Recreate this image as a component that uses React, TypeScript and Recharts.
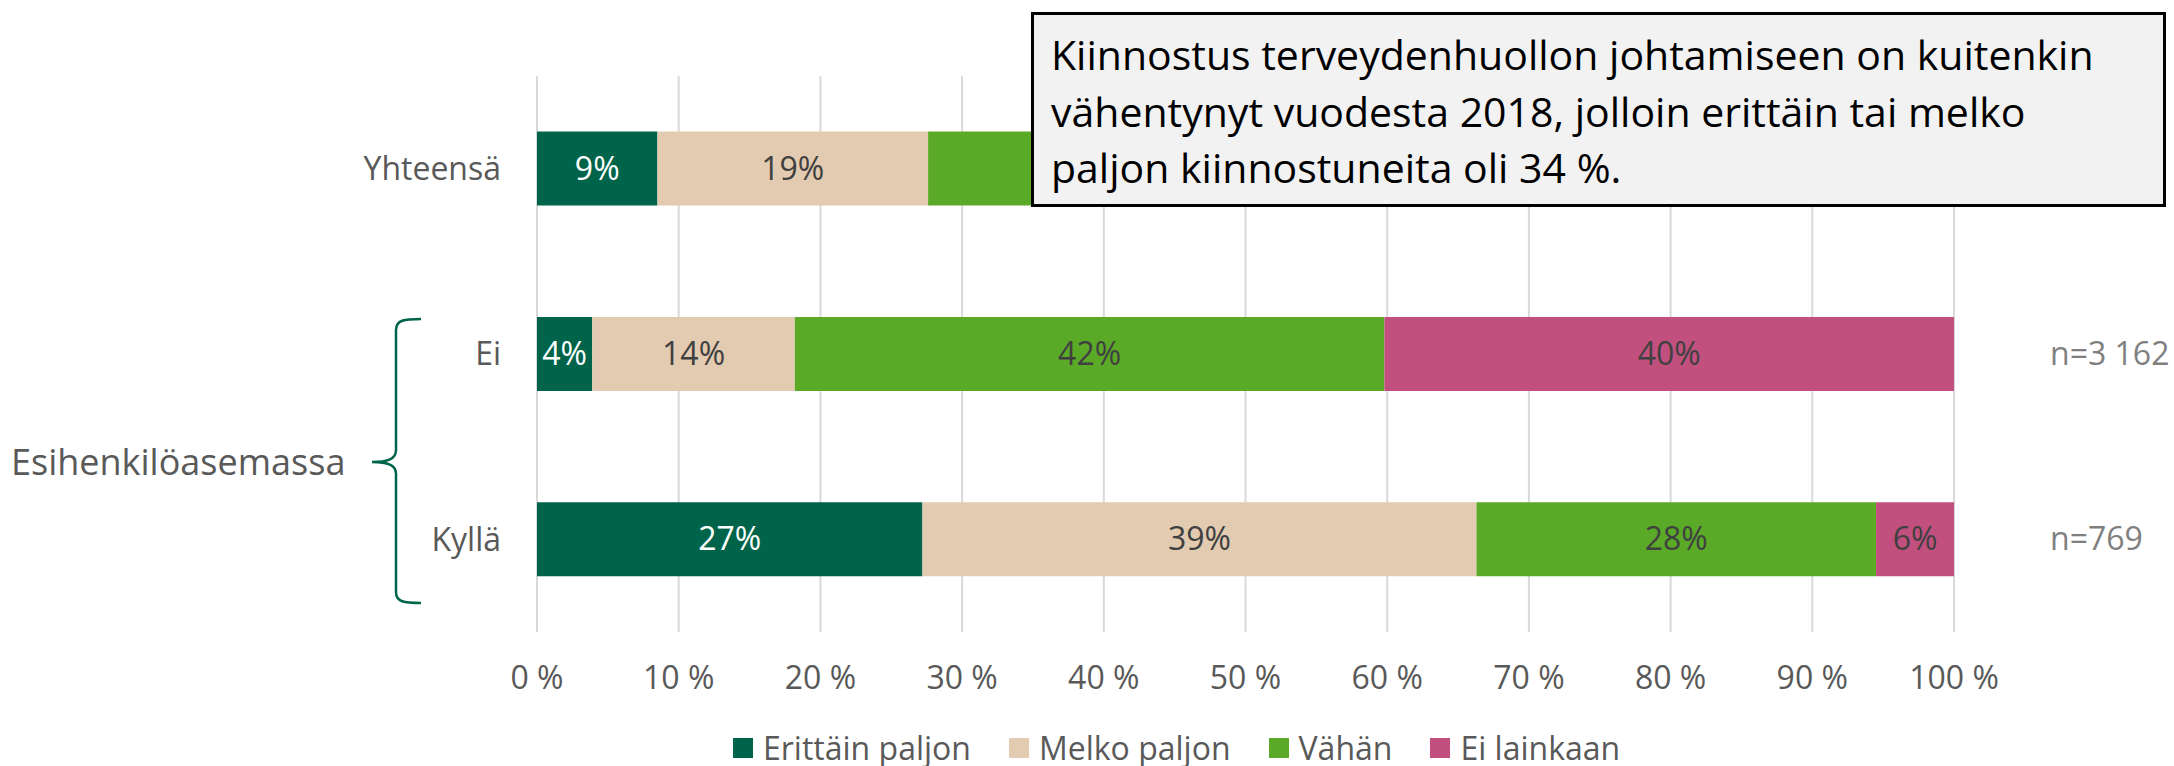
import React from 'react';
import { BarChart, Bar, XAxis, YAxis, CartesianGrid, Legend, LabelList } from 'recharts';

const categories = ['Yhteensä', 'Ei', 'Kyllä'];
const erittainPaljon = [8.5, 3.9, 27.2];
const melkoPaljon = [19.1, 14.3, 39.1];
const vahan = [39.0, 41.6, 28.2];
const eiLainkaan = [33.4, 40.2, 5.5];
const nLabels = ['n=3 931', 'n=3 162', 'n=769'];
const xTicks = [0, 10, 20, 30, 40, 50, 60, 70, 80, 90, 100];
// rows whose labels sit under the callout box
const hiddenUnderCallout = { vahan: [0], ei: [0], n: [0] } as Record<string, number[]>;

const series = [
  { key: 'erittain', name: 'Erittäin paljon', color: '#00644B', text: '#ffffff' },
  { key: 'melko', name: 'Melko paljon', color: '#E2CBB0', text: '#404040' },
  { key: 'vahan', name: 'Vähän', color: '#5AAA28', text: '#404040' },
  { key: 'ei', name: 'Ei lainkaan', color: '#C2507F', text: '#404040' },
];

const data = categories.map((c, i) => ({
  category: c,
  erittain: erittainPaljon[i],
  melko: melkoPaljon[i],
  vahan: vahan[i],
  ei: eiLainkaan[i],
  n: nLabels[i],
}));

const FONT = '"Open Sans", sans-serif';
const GREY = '#595959';

const YTick = (props: any) => {
  const { x, y, payload } = props;
  return (
    <text x={x} y={y} dy="0.35em" textAnchor="end" fill={GREY} fontSize={32} fontFamily={FONT}>
      {payload.value}
    </text>
  );
};

const XTick = (props: any) => {
  const { x, y, payload } = props;
  return (
    <text x={x} y={y} dy="0.35em" textAnchor="middle" fill={GREY} fontSize={32} fontFamily={FONT}>
      {payload.value} %
    </text>
  );
};

const makeValueLabel = (key: string, color: string) => (props: any) => {
  const { x, y, width, height, value, index } = props;
  if ((hiddenUnderCallout[key] || []).includes(index)) return null;
  return (
    <text
      x={x + width / 2}
      y={y + height / 2}
      dy="0.35em"
      textAnchor="middle"
      fill={color}
      fontSize={32}
      fontFamily={FONT}
    >
      {Math.round(value)}%
    </text>
  );
};

const NLabel = (props: any) => {
  const { y, height, index } = props;
  if (hiddenUnderCallout.n.includes(index)) return null;
  return (
    <text x={2050} y={y + height / 2} dy="0.35em" fill="#7f7f7f" fontSize={32} fontFamily={FONT}>
      {nLabels[index]}
    </text>
  );
};

const LegendContent = () => (
  <div style={{ display: 'flex', alignItems: 'center', paddingLeft: 733, fontFamily: FONT, fontSize: 32, color: GREY }}>
    {series.map((s) => (
      <div key={s.key} style={{ display: 'flex', alignItems: 'center', marginRight: 38 }}>
        <div style={{ width: 20, height: 20, background: s.color, marginRight: 10 }} />
        <span>{s.name}</span>
      </div>
    ))}
  </div>
);

export default function App() {
  return (
    <div style={{ position: 'absolute', left: 0, top: 0, width: 2174, height: 766, background: '#fff' }}>
      <BarChart
        width={2174}
        height={766}
        data={data}
        layout="vertical"
        barCategoryGap="30%"
        margin={{ top: 76, right: 220, left: 337, bottom: 84 }}
      >
        <CartesianGrid horizontal={false} stroke="#d9d9d9" strokeWidth={2} />
        <XAxis
          type="number"
          domain={[0, 100]}
          ticks={xTicks}
          axisLine={false}
          tickLine={false}
          height={50}
          tick={<XTick />}
          tickMargin={40}
        />
        <YAxis
          type="category"
          dataKey="category"
          width={200}
          axisLine={false}
          tickLine={false}
          tick={<YTick />}
          tickMargin={30}
        />
        <Legend
          layout="horizontal"
          verticalAlign="middle"
          wrapperStyle={{ top: 726, left: 0, width: 2174 }}
          content={<LegendContent />}
        />
        {series.map((s, i) => (
          <Bar key={s.key} dataKey={s.key} name={s.name} stackId="a" fill={s.color} isAnimationActive={false}>
            <LabelList dataKey={s.key} content={makeValueLabel(s.key, s.text)} />
            {i === series.length - 1 && <LabelList dataKey="n" content={<NLabel />} />}
          </Bar>
        ))}
      </BarChart>
      <svg style={{ position: 'absolute', left: 0, top: 0 }} width={2174} height={766} pointerEvents="none">
        <path
          d="M421,319 C404,319 396,320 396,330 L396,450 C396,459 388,462 372,462 C388,462 396,465 396,474 L396,592 C396,602 404,603 421,603"
          fill="none"
          stroke="#00644B"
          strokeWidth={2.5}
        />
        <text x={11} y={462} dy="0.35em" fill={GREY} fontSize={36} fontFamily={FONT}>
          Esihenkilöasemassa
        </text>
      </svg>
      <div
        style={{
          position: 'absolute',
          left: 1031,
          top: 12,
          width: 1135,
          height: 195,
          boxSizing: 'border-box',
          border: '3px solid #000',
          background: '#f2f2f2',
          padding: '11px 0 0 17px',
          fontFamily: FONT,
          fontSize: 41,
          lineHeight: '56.5px',
          color: '#000',
        }}
      >
        Kiinnostus terveydenhuollon johtamiseen on kuitenkin
        <br />
        vähentynyt vuodesta 2018, jolloin erittäin tai melko
        <br />
        paljon kiinnostuneita oli 34 %.
      </div>
    </div>
  );
}
